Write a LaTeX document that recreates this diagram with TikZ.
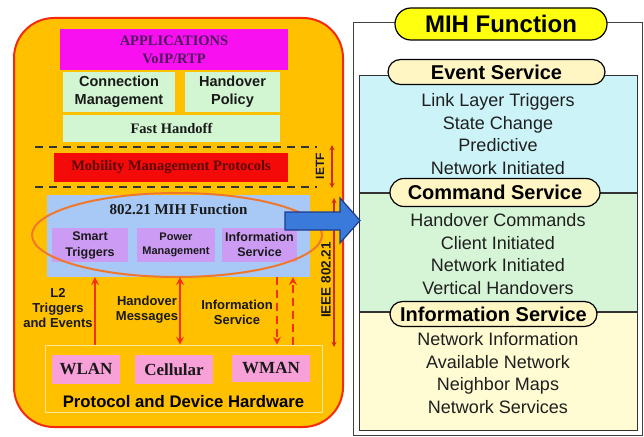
\documentclass[tikz,border=0pt]{standalone}
\usepackage{fontspec}
\setmainfont{Liberation Sans}
\newfontfamily\timesfont{Liberation Serif}
\usepackage{xcolor}
\usepackage{tikz}
\usetikzlibrary{shapes.geometric, shapes.misc, arrows, positioning}

\definecolor{panelgold}{HTML}{FFC000}
\definecolor{panelred}{HTML}{F52A0A}
\definecolor{appmagenta}{HTML}{F810F0}
\definecolor{apptext}{HTML}{501860}
\definecolor{boxgreen}{HTML}{D2F5D2}
\definecolor{mobred}{HTML}{F50A0A}
\definecolor{mobtext}{HTML}{5A0808}
\definecolor{mihblue}{HTML}{A8C8F5}
\definecolor{svcpurple}{HTML}{CC9CF5}
\definecolor{ringorange}{HTML}{F0782D}
\definecolor{hwpink}{HTML}{F8A0D8}
\definecolor{hwline}{HTML}{FFE6A0}
\definecolor{arrowred}{HTML}{F5300F}
\definecolor{arrowblue}{HTML}{3A7ADA}
\definecolor{arrowedge}{HTML}{1E3C8C}
\definecolor{evtcyan}{HTML}{CCF4F8}
\definecolor{cmdgreen}{HTML}{D6F5D6}
\definecolor{infoyellow}{HTML}{FFFBD2}
\definecolor{pillcream}{HTML}{FFF6C4}
\definecolor{titleyellow}{HTML}{FFFF10}

\tikzstyle{layer} = [rectangle, draw=none, align=center, inner sep=0pt]
\tikzstyle{greenbox} = [layer, fill=boxgreen, text=black!90, font=\bfseries\fontsize{14.5}{18.5}\selectfont]
\tikzstyle{svcbox} = [layer, fill=svcpurple, minimum height=34pt, text=black!90]
\tikzstyle{hwbox} = [layer, fill=hwpink, text=black!90, font=\timesfont\bfseries\fontsize{17}{20}\selectfont]
\tikzstyle{sidelabel} = [align=center, inner sep=0pt, text=black!90, font=\bfseries\fontsize{13}{15}\selectfont]
\tikzstyle{redarrow} = [line width=2.4pt, draw=arrowred, ->, >=stealth]
\tikzstyle{sidearrow} = [line width=1.3pt, draw=arrowred!85!black, <->, >=stealth]
\tikzstyle{divider} = [line width=2pt, draw=black!80, dash pattern=on 8pt off 6pt]
\tikzstyle{section} = [rectangle, draw=black!80, line width=1pt, minimum width=278pt, minimum height=118pt, inner sep=0pt]
\tikzstyle{pill} = [rounded rectangle, draw=black, line width=1.2pt, fill=pillcream, inner sep=0pt, font=\bfseries\fontsize{20}{22}\selectfont]
\tikzstyle{items} = [align=center, inner sep=0pt, text=black!88, font=\fontsize{18}{22.7}\selectfont]

\begin{document}
\begin{tikzpicture}[x=1pt, y=-1pt]
\useasboundingbox (0,0) rectangle (644,436);
\fill [white] (0,0) rectangle (644,436);

% left part: protocol stack
\node (panel) [rectangle, draw=panelred, line width=2pt, fill=panelgold, rounded corners=40pt, minimum width=329pt, minimum height=409pt] at (178.5,222.5) {};

\node (app) [layer, fill=appmagenta, minimum width=228pt, minimum height=41pt, text=apptext, font=\timesfont\bfseries\fontsize{14.5}{18}\selectfont] at (174,49.5) {APPLICATIONS\\VoIP/RTP};
\node (conn) [greenbox, minimum width=112pt, minimum height=40pt] at (119,92) {Connection\\Management};
\node (hpol) [greenbox, minimum width=95pt, minimum height=40pt] at (232.5,92) {Handover\\Policy};
\node (fast) [greenbox, minimum width=217pt, minimum height=27pt, font=\timesfont\bfseries\fontsize{14.5}{17}\selectfont] at (171.5,128.5) {Fast Handoff};

\coordinate (dashA) at (35,147);
\coordinate (dashB) at (317,147);
\coordinate (dashC) at (35,187);
\coordinate (dashD) at (317,187);
\draw [divider] (dashA) -- (dashB);
\draw [divider] (dashC) -- (dashD);
\node (mob) [layer, fill=mobred, minimum width=234pt, minimum height=29pt, text=mobtext, font=\timesfont\bfseries\fontsize{14.5}{17}\selectfont] at (171,167.5) {Mobility Management Protocols};

\node (mih) [layer, fill=mihblue, minimum width=263pt, minimum height=82pt] at (178.5,236) {};
\node (mihname) [inner sep=0pt, text=black!90, font=\timesfont\bfseries\fontsize{15}{17}\selectfont] at (178.5,209) {802.21 MIH Function};
\node (trig) [svcbox, minimum width=76pt, font=\bfseries\fontsize{12.5}{16}\selectfont] at (90,245) {Smart\\Triggers};
\node (pow) [svcbox, minimum width=78pt, font=\bfseries\fontsize{11}{13.5}\selectfont] at (176,245) {Power\\Management};
\node (info) [svcbox, minimum width=75pt, font=\bfseries\fontsize{12.5}{15}\selectfont] at (259.5,245) {Information\\Service};
\node (mihring) [ellipse, draw=ringorange, line width=2pt, minimum width=290pt, minimum height=84pt] at (177,235) {};

\node (hw) [layer, draw=hwline, line width=0.8pt, fill=panelgold, minimum width=277pt, minimum height=67pt] at (183.5,378.5) {};
\node (wlan) [hwbox, minimum width=68pt, minimum height=29pt] at (86,369.5) {WLAN};
\node (cell) [hwbox, minimum width=78pt, minimum height=29pt] at (174,369.5) {Cellular};
\node (wman) [hwbox, minimum width=78pt, minimum height=27pt] at (271,368.5) {WMAN};
\node (hwname) [inner sep=0pt, text=black, font=\bfseries\fontsize{16.7}{19}\selectfont] at (183.5,402) {Protocol and Device Hardware};

\node (l2lbl) [sidelabel] at (58,308) {L2\\Triggers\\and Events};
\node (msglbl) [sidelabel] at (147,310) {Handover\\Messages};
\node (islbl) [sidelabel] at (237,312.5) {Information\\Service};

\draw [redarrow] (hw.north -| 95,0) -- (mih.south -| 95,0);
\draw [redarrow, <->] (hw.north -| 180,0) -- (mih.south -| 180,0);
\draw [redarrow, dash pattern=on 8pt off 5pt] (mih.south -| 277,0) -- (hw.north -| 277,0);
\draw [redarrow, dash pattern=on 8pt off 5pt] (hw.north -| 293,0) -- (mih.south -| 293,0);

\coordinate (ietftop) at (332,145);
\coordinate (ietfbot) at (332,188);
\draw [sidearrow] (ietftop) -- (ietfbot);
\node (ietf) [rotate=90, inner sep=0pt, text=black!90, font=\bfseries\fontsize{12}{14}\selectfont] at (320,166) {IETF};
\coordinate (ieeetop) at (334,198);
\coordinate (ieeebot) at (334,347);
\draw [sidearrow] (ieeetop) -- (ieeebot);
\node (ieee) [rotate=90, inner sep=0pt, text=black!90, font=\bfseries\fontsize{13.5}{15}\selectfont] at (326,280) {IEEE 802.21};

% right part: MIH services
\node (mihframe) [rectangle, draw=black!75, line width=1pt, fill=white, minimum width=289pt, minimum height=412pt] at (497.5,229) {};
\node (evtsec) [section, fill=evtcyan, minimum height=117pt] at (498,133.5) {};
\node (cmdsec) [section, fill=cmdgreen, below=0pt of evtsec] {};
\node (infosec) [section, fill=infoyellow, below=0pt of cmdsec] {};

\node (mihtitle) [pill, fill=titleyellow, minimum width=212pt, minimum height=32pt, font=\bfseries\fontsize{24}{26}\selectfont] at (501,24) {MIH Function};
\node (evtlbl) [pill, minimum width=217pt, minimum height=25pt] at ([xshift=-1.5pt, yshift=2.5pt]evtsec.north) {Event Service};
\node (cmdlbl) [pill, minimum width=210pt, minimum height=28pt] at ([xshift=-3pt]cmdsec.north) {Command Service};
\node (infolbl) [pill, minimum width=207pt, minimum height=25pt] at ([xshift=-4.5pt, yshift=-2.5pt]infosec.north) {Information Service};

\node (evtitems) [items] at (498,134) {Link Layer Triggers\\State Change\\Predictive\\Network Initiated};
\node (cmditems) [items] at (498,254) {Handover Commands\\Client Initiated\\Network Initiated\\Vertical Handovers};
\node (infoitems) [items] at (498,373) {Network Information\\Available Network\\Neighbor Maps\\Network Services};

\draw [line width=1.2pt, draw=arrowedge, fill=arrowblue] (285,212) -- (340,212) -- (340,198) -- (360,220.5) -- (340,243) -- (340,230) -- (285,230) -- cycle;

\end{tikzpicture}
\end{document}
